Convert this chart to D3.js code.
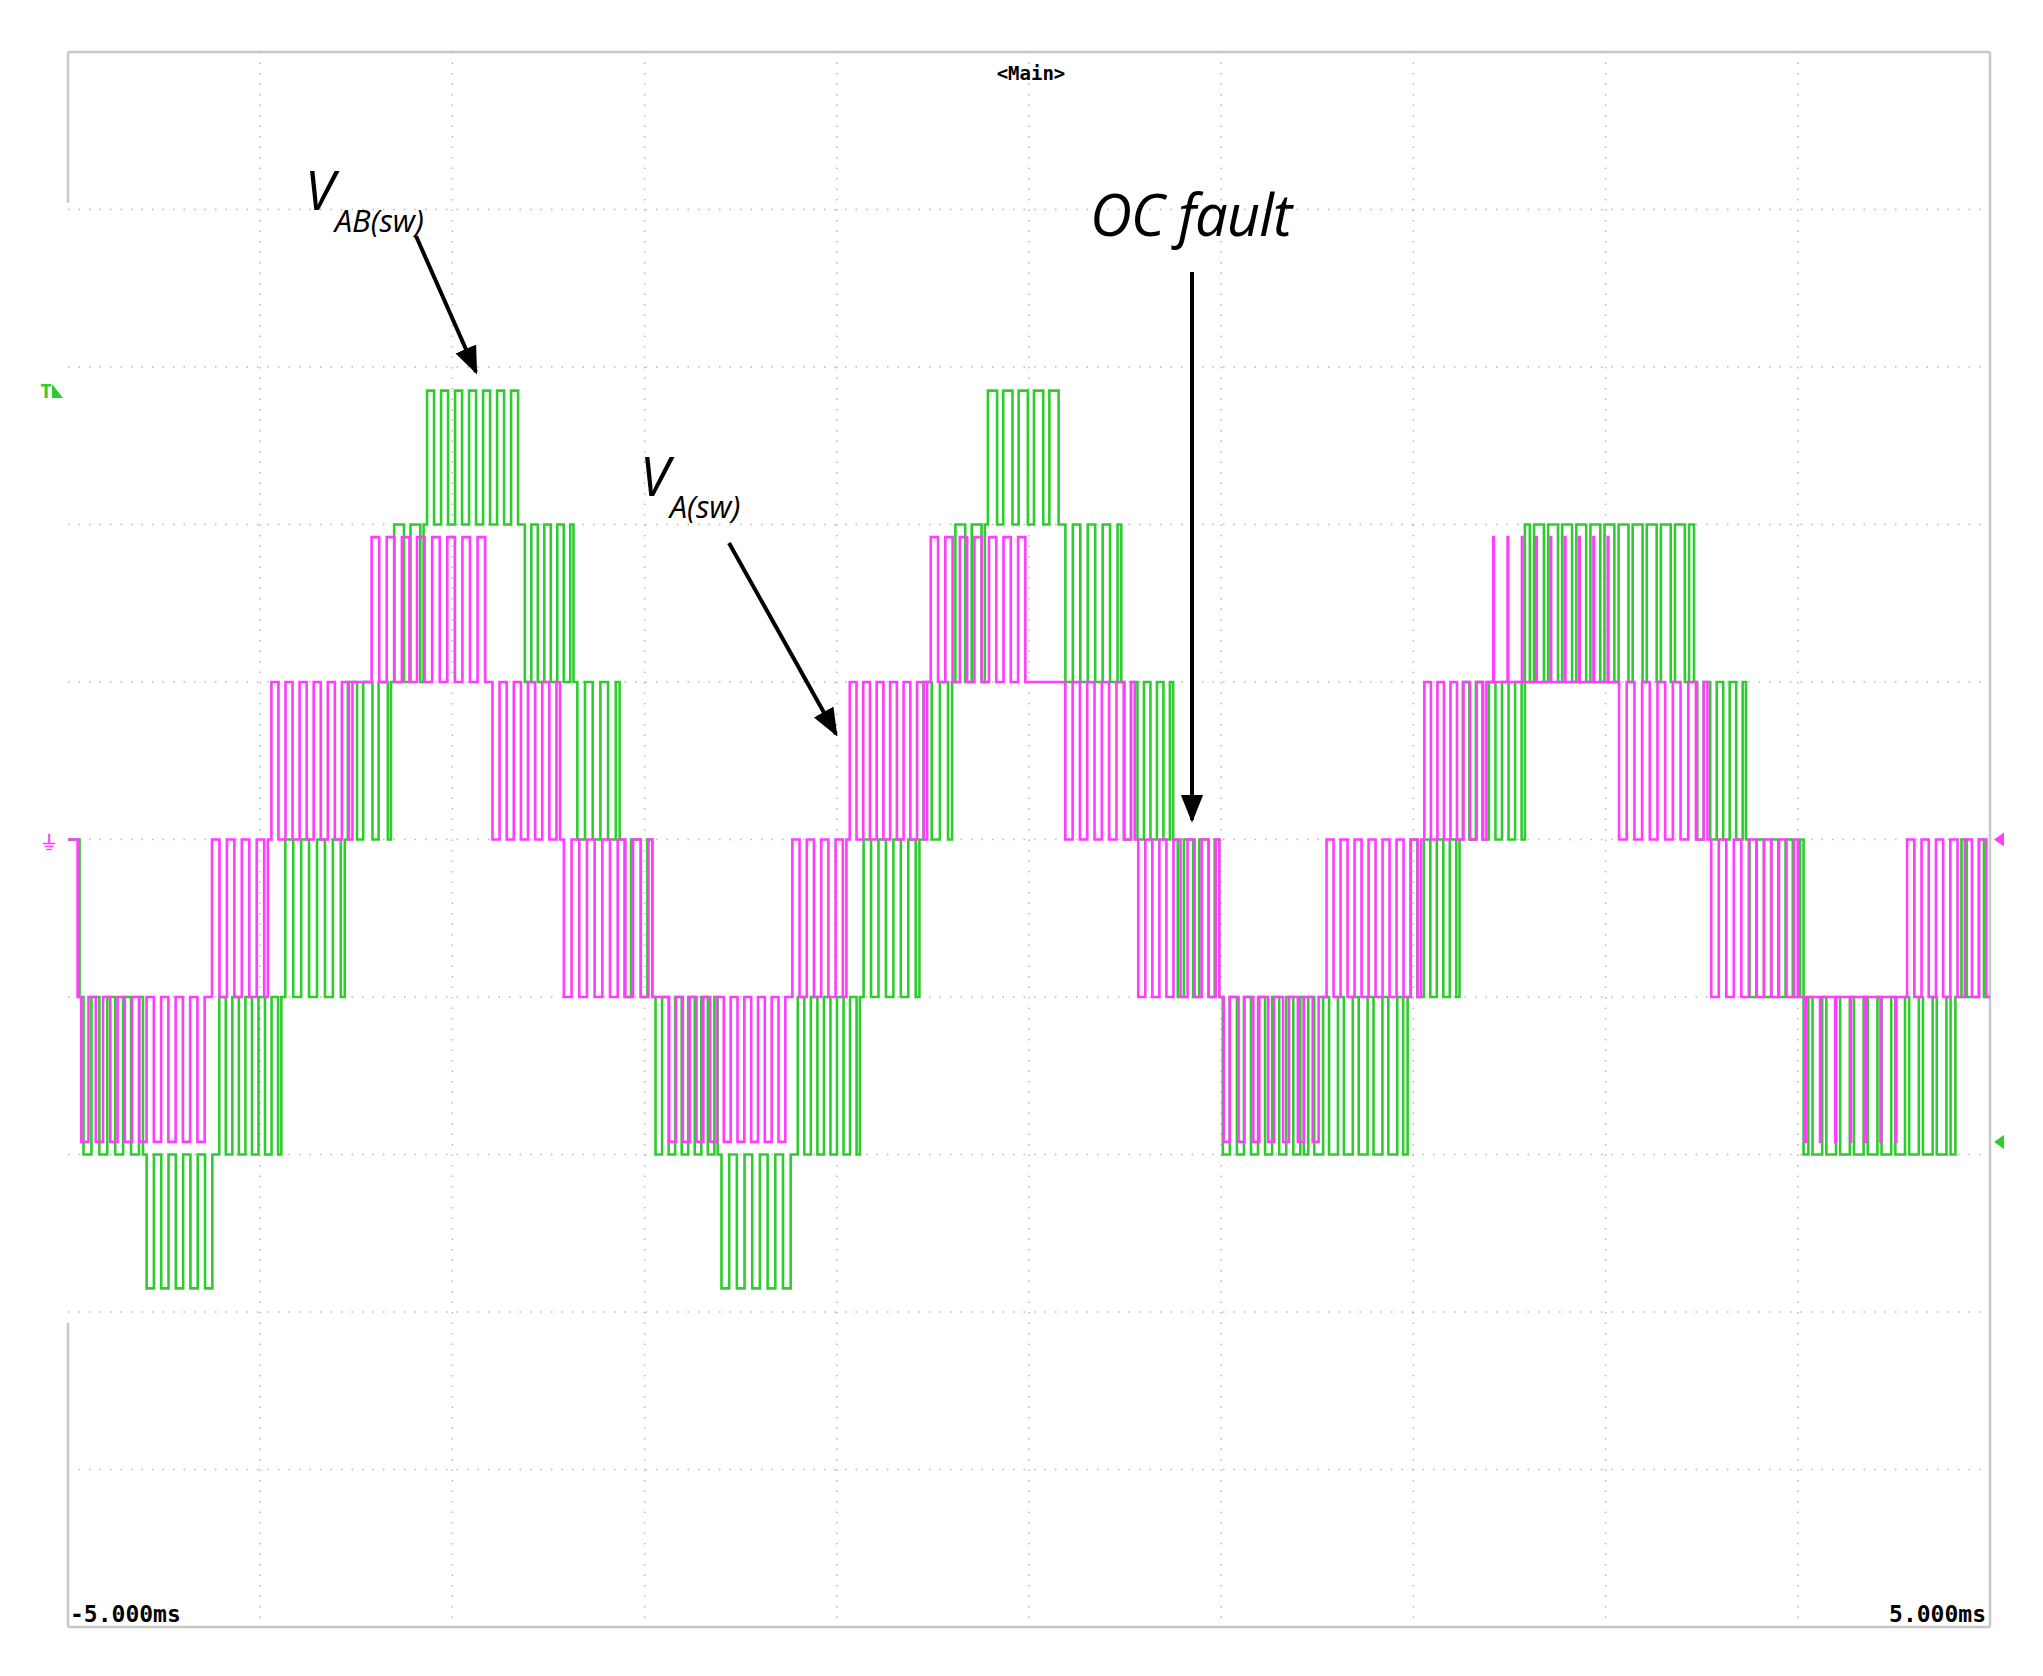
<!DOCTYPE html>
<html lang="en">
  <head>
    <meta charset="utf-8" />
    <script src="https://d3js.org/d3.v7.min.js"></script>
    <style>
      body { margin: 0; background: #fff; }
      svg { display: block; }
    </style>
  </head>
  <body>
    <svg id="chart" width="2043" height="1676"></svg>
    <script>
      // DATA (time in ms, levels in screen divisions from ground)
      const timeTicks = ["-5.000ms", "5.000ms"];
      const carrierPeriod = 0.075; // ms, switching period read from pulse spacing

      // V_A(sw): [t0, t1, base level, pulse level, duty]
      const phaseSegments = [
        [-5.0, -4.95, 0, 0, 0],
        [-4.95, -4.27, -1, -1.92, 0.5],
        [-4.27, -3.96, -1, 0, 0.5],
        [-3.96, -3.52, 0, 1, 0.5],
        [-3.52, -3.44, 1, 1, 0],
        [-3.44, -2.81, 1, 1.92, 0.5],
        [-2.81, -2.44, 1, 0, 0.5],
        [-2.44, -1.96, 0, -1, 0.5],
        [-1.96, -1.89, -1, -1, 0],
        [-1.89, -1.25, -1, -1.92, 0.5],
        [-1.25, -0.95, -1, 0, 0.5],
        [-0.95, -0.53, 0, 1, 0.5],
        [-0.53, 0.0, 1, 1.92, 0.5],
        [0.0, 0.17, 1, 1, 0],
        [0.17, 0.55, 1, 0, 0.5],
        [0.55, 0.99, 0, -1, 0.5],
        [0.99, 1.53, -1, -1.92, 0.4],
        [1.53, 2.04, -1, 0, 0.5],
        [2.04, 2.38, 0, 1, 0.5],
        [2.38, 3.05, 1, 1.92, 0.04],
        [3.05, 3.53, 1, 0, 0.5],
        [3.53, 4.0, 0, -1, 0.5],
        [4.0, 4.55, -1, -1.92, 0.05],
        [4.55, 5.0, -1, 0, 0.5],
      ];

      // V_AB(sw): [t0, t1, base level, pulse level, duty]
      const lineSegments = [
        [-5.0, -4.94, 0, 0, 0],
        [-4.94, -4.61, -1, -2, 0.5],
        [-4.61, -4.23, -2, -2.85, 0.5],
        [-4.23, -3.89, -2, -1, 0.5],
        [-3.89, -3.56, -1, 0, 0.5],
        [-3.56, -3.32, 0, 1, 0.6],
        [-3.32, -3.15, 1, 2, 0.6],
        [-3.15, -2.64, 2, 2.85, 0.5],
        [-2.64, -2.37, 2, 1, 0.5],
        [-2.37, -2.13, 1, 0, 0.5],
        [-2.13, -1.96, 0, -1, 0.4],
        [-1.96, -1.62, -1, -2, 0.5],
        [-1.62, -1.22, -2, -2.85, 0.5],
        [-1.22, -0.88, -2, -1, 0.5],
        [-0.88, -0.57, -1, 0, 0.5],
        [-0.57, -0.4, 0, 1, 0.5],
        [-0.4, -0.23, 1, 2, 0.6],
        [-0.23, 0.17, 2, 2.85, 0.6],
        [0.17, 0.48, 2, 1, 0.5],
        [0.48, 0.75, 1, 0, 0.5],
        [0.75, 0.99, 0, -1, 0.4],
        [0.99, 1.43, -1, -2, 0.5],
        [1.43, 1.97, -2, -1, 0.4],
        [1.97, 2.24, -1, 0, 0.5],
        [2.24, 2.58, 0, 1, 0.5],
        [2.58, 3.46, 2, 1, 0.3],
        [3.46, 3.73, 1, 0, 0.5],
        [3.73, 4.03, 0, -1, 0.5],
        [4.03, 4.82, -2, -1, 0.3],
        [4.82, 5.0, -1, 0, 0.3],
      ];

      // LAYOUT
      const svg = d3.select("#chart");
      const x0 = 68, x1 = 1990, y0 = 52, y1 = 1627;
      const x = d3.scaleLinear().domain([-5, 5]).range([x0, x1]);
      const y = d3.scaleLinear().domain([-5, 5]).range([y1, y0]);

      // grid
      const grid = svg.append("g").attr("stroke", "#b8b8b8").attr("stroke-width", 1.5)
        .attr("stroke-dasharray", "1.5,9");
      grid.selectAll(".vx").data(d3.range(-4, 5)).join("line")
        .attr("x1", (d) => x(d)).attr("x2", (d) => x(d)).attr("y1", y0).attr("y2", y1);
      grid.selectAll(".hy").data(d3.range(-4, 5)).join("line")
        .attr("y1", (d) => y(d)).attr("y2", (d) => y(d)).attr("x1", x0).attr("x2", x1);

      // frame (left edge has gaps like the scope capture)
      const frame = svg.append("g").attr("stroke", "#c8c8c8").attr("stroke-width", 2.5);
      frame.append("line").attr("x1", x0).attr("x2", x1).attr("y1", y0).attr("y2", y0);
      frame.append("line").attr("x1", x0).attr("x2", x1).attr("y1", y1).attr("y2", y1);
      frame.append("line").attr("x1", x1).attr("x2", x1).attr("y1", y0).attr("y2", y1);
      frame.append("line").attr("x1", x0).attr("x2", x0).attr("y1", y0).attr("y2", 203);
      frame.append("line").attr("x1", x0).attr("x2", x0).attr("y1", 1323).attr("y2", y1);

      // build PWM trace from segments
      function pwm(segments) {
        const pts = [];
        segments.forEach(([t0, t1, base, alt, duty]) => {
          pts.push([t0, base]);
          const n = Math.max(1, Math.round((t1 - t0) / carrierPeriod));
          const cell = (t1 - t0) / n;
          if (duty > 0) {
            for (let k = 0; k < n; k++) {
              const c = t0 + (k + 0.5) * cell;
              const w = (duty * cell) / 2;
              pts.push([c - w, base], [c - w, alt], [c + w, alt], [c + w, base]);
            }
          }
          pts.push([t1, base]);
        });
        return pts;
      }

      const line = d3.line().x((d) => x(d[0])).y((d) => y(d[1]));
      svg.append("path").attr("d", line(pwm(lineSegments)))
        .attr("fill", "none").attr("stroke", "#2fcc2f").attr("stroke-width", 2.6);
      svg.append("path").attr("d", line(pwm(phaseSegments)))
        .attr("fill", "none").attr("stroke", "#ff3cff").attr("stroke-width", 2.6);

      // scope text
      const mono = "'DejaVu Sans Mono', monospace";
      svg.append("text").attr("x", 1031).attr("y", 80).attr("text-anchor", "middle")
        .attr("font-family", mono).attr("font-weight", "bold").attr("font-size", 19).text("<Main>");
      svg.append("text").attr("x", x0 + 2).attr("y", 1622).attr("font-family", mono)
        .attr("font-weight", "bold").attr("font-size", 23).text(timeTicks[0]);
      svg.append("text").attr("x", x1 - 4).attr("y", 1622).attr("text-anchor", "end")
        .attr("font-family", mono).attr("font-weight", "bold").attr("font-size", 23).text(timeTicks[1]);

      // channel markers
      svg.append("text").attr("x", 40).attr("y", 398).attr("fill", "#2fcc2f")
        .attr("font-family", mono).attr("font-weight", "bold").attr("font-size", 20).text("T");
      svg.append("path").attr("d", `M52,384 L63,398 L52,398 Z`).attr("fill", "#2fcc2f");
      svg.append("text").attr("x", 42).attr("y", y(0) + 10).attr("fill", "#ff3cff")
        .attr("font-family", mono).attr("font-weight", "bold").attr("font-size", 20).text("⏚");
      svg.append("path").attr("d", `M${x1 + 4},${y(0)} l10,-7 v14 Z`).attr("fill", "#ff3cff");
      svg.append("path").attr("d", `M${x1 + 4},${y(-1.92)} l10,-7 v14 Z`).attr("fill", "#2fcc2f");

      // annotations
      const defs = svg.append("defs");
      defs.append("marker").attr("id", "ah").attr("viewBox", "0 0 10 10")
        .attr("refX", 9).attr("refY", 5).attr("markerWidth", 7).attr("markerHeight", 7)
        .attr("markerUnits", "strokeWidth").attr("orient", "auto")
        .append("path").attr("d", "M0,1 L10,5 L0,9 Z").attr("fill", "#000");
      const arrow = (ax1, ay1, ax2, ay2) => svg.append("line").attr("x1", ax1).attr("y1", ay1)
        .attr("x2", ax2).attr("y2", ay2).attr("stroke", "#000").attr("stroke-width", 4)
        .attr("marker-end", "url(#ah)");
      const font = "'Open Sans', sans-serif";
      function label(xp, yp, main, sub) {
        const t = svg.append("text").attr("x", xp).attr("y", yp).attr("font-family", font)
          .attr("font-style", "italic");
        t.append("tspan").attr("font-size", 54).text(main);
        t.append("tspan").attr("font-size", 31).attr("dy", 22).text(sub);
      }
      label(305, 210, "V", "AB(sw)");
      arrow(416, 236, 476, 372);
      label(640, 496, "V", "A(sw)");
      arrow(729, 543, 836, 734);
      svg.append("text").attr("x", 1090).attr("y", 236).attr("font-family", font)
        .attr("font-style", "italic").attr("font-size", 58).attr("letter-spacing", -1).text("OC fault");
      arrow(1192, 272, 1192, 820);
    </script>
  </body>
</html>
